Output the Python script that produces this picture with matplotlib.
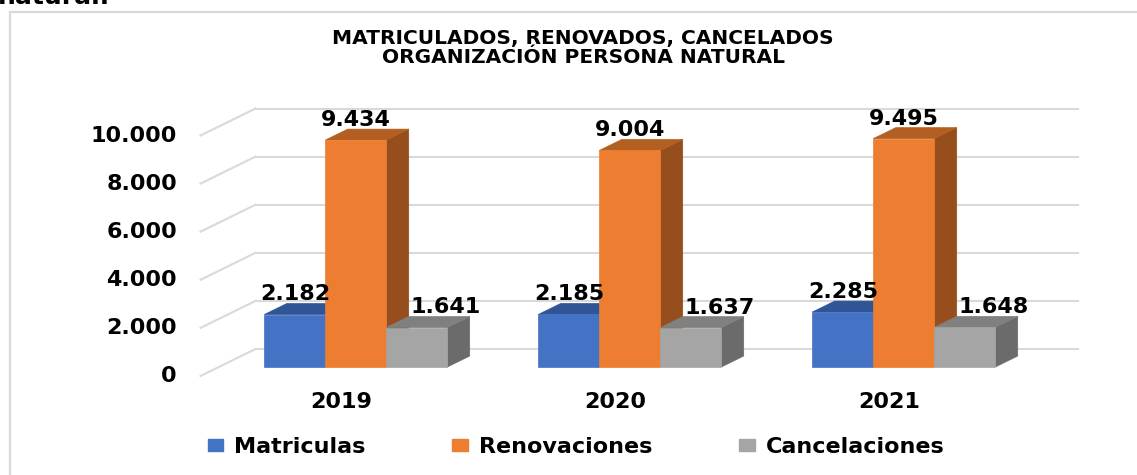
import matplotlib.pyplot as plt
from matplotlib.patches import Polygon, Patch, Rectangle

# Data
years = ['2019', '2020', '2021']
series = ['Matriculas', 'Renovaciones', 'Cancelaciones']
matriculas = [2182, 2185, 2285]
renovaciones = [9434, 9004, 9495]
cancelaciones = [1641, 1637, 1648]
ticks = [0, 2000, 4000, 6000, 8000, 10000]

# face colours: front, top, side
COLORS = [('#4472C4', '#2F5597', '#2F528F'),
          ('#ED7D31', '#B45F22', '#964E1D'),
          ('#A5A5A5', '#808080', '#6B6B6B')]
GRID = '#D9D9D9'

# Pixel layout of the pseudo-3D box
W, H = 1137, 475
PX_PER_CAT = 274.0
PX_PER_UNIT = 0.02405
FLOOR_X0 = 200.5
FLOOR_Y0 = 376.0
DEPTH_X = 55 / PX_PER_CAT
DEPTH_V = 27 / PX_PER_UNIT
BAR_D0, BAR_D1 = 0.333, 0.74
BAR_W = 61 / PX_PER_CAT


def fmt(v):
    return f'{v:,}'.replace(',', '.')


def proj(x, v, d):
    return (x + d * DEPTH_X, v + d * DEPTH_V)


def draw_bar(ax, x0, w, h, colors, z):
    front, top, side = colors
    x1 = x0 + w
    faces = [
        ([proj(x1, 0, BAR_D0), proj(x1, 0, BAR_D1), proj(x1, h, BAR_D1), proj(x1, h, BAR_D0)], side),
        ([proj(x0, h, BAR_D0), proj(x1, h, BAR_D0), proj(x1, h, BAR_D1), proj(x0, h, BAR_D1)], top),
        ([proj(x0, 0, BAR_D0), proj(x1, 0, BAR_D0), proj(x1, h, BAR_D0), proj(x0, h, BAR_D0)], front),
    ]
    for pts, c in faces:
        ax.add_patch(Polygon(pts, closed=True, facecolor=c, edgecolor=c, lw=0.5, zorder=z))


def main():
    plt.rcParams['font.family'] = 'DejaVu Sans'
    plt.rcParams['font.weight'] = 'bold'

    fig = plt.figure(figsize=(W / 100, H / 100), dpi=100)
    ax = fig.add_axes([0, 0, 1, 1])
    ax.set_axis_off()
    ax.set_xlim(-FLOOR_X0 / PX_PER_CAT, (W - FLOOR_X0) / PX_PER_CAT)
    ax.set_ylim((FLOOR_Y0 - H) / PX_PER_UNIT, FLOOR_Y0 / PX_PER_UNIT)

    # outer chart border (cut by the image edges)
    fig.patches.append(Rectangle((10 / W, -0.2), 1.2, 1.2 - 11.5 / H,
                                 transform=fig.transFigure, fill=False,
                                 edgecolor=GRID, lw=1.6))
    # tail of the paragraph above the chart, cut by the top edge as in the source
    fig.text(-2 / W, 1 - 3.5 / H, 'natural.', fontsize=18, fontweight='bold',
             va='baseline', ha='left')

    # walls: back gridlines and side diagonals
    n = len(years)
    for t in ticks:
        bx0, by = proj(0, t, 1)
        bx1, _ = proj(n, t, 1)
        ax.plot([bx0, bx1], [by, by], color=GRID, lw=1.5, zorder=1)
        fx, fy = proj(0, t, 0)
        ax.plot([fx, bx0], [fy, by], color=GRID, lw=1.5, zorder=1)
        ax.annotate(fmt(t), xy=(fx, fy), xytext=(-17, 0), textcoords='offset points',
                    ha='right', va='center', fontsize=16, fontweight='bold')

    # bars
    values = [matriculas, renovaciones, cancelaciones]
    z = 2
    for i, year in enumerate(years):
        start = i + 0.5 - 1.5 * BAR_W
        for j, vals in enumerate(values):
            x0 = start + j * BAR_W
            draw_bar(ax, x0, BAR_W, vals[i], COLORS[j], z)
            z += 1
            dx = 21 if j == 2 else 0
            ax.annotate(fmt(vals[i]), xy=proj(x0 + BAR_W / 2, vals[i], BAR_D0),
                        xytext=(dx, 14.5), textcoords='offset points',
                        ha='center', va='center', fontsize=16, fontweight='bold',
                        zorder=50)
        ax.annotate(year, xy=(i + 0.5, 0), xytext=(3, -19), textcoords='offset points',
                    ha='center', va='center', fontsize=16, fontweight='bold')

    fig.text(583 / W, 1 - 48 / H,
             'MATRICULADOS, RENOVADOS, CANCELADOS\nORGANIZACIÓN PERSONA NATURAL',
             ha='center', va='center', fontsize=14.5, fontweight='bold',
             linespacing=1.0)

    handles = [Patch(facecolor=c[0], edgecolor=c[0]) for c in COLORS]
    fig.legend(handles, series, loc='center', bbox_to_anchor=(576 / W, 1 - 447 / H),
               ncol=3, frameon=False, prop={'size': 16, 'weight': 'bold'},
               handlelength=0.7, handleheight=0.5, handletextpad=0.5,
               columnspacing=3.9)

    fig.savefig('out.png', dpi=100)


main()
